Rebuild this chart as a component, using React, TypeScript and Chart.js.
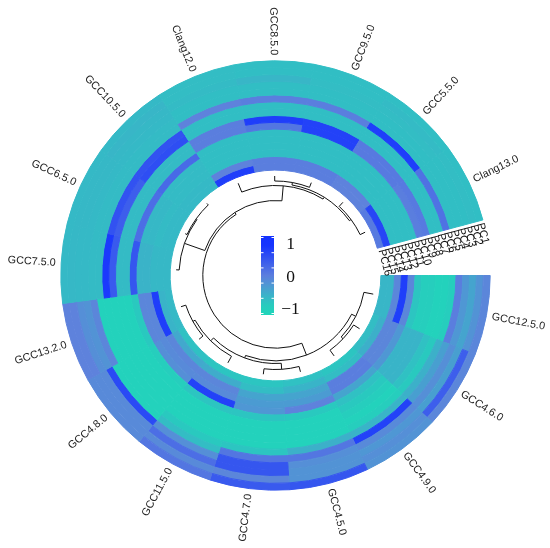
import React, { useEffect, useRef } from "react";
import { Chart, registerables } from "chart.js";

Chart.register(...registerables);

const sectorLabels = ["GCC12.5.0","GCC4.6.0","GCC4.9.0","GCC4.5.0","GCC4.7.0","GCC11.5.0","GCC4.8.0","GCC13.2.0","GCC7.5.0","GCC6.5.0","GCC10.5.0","Clang12.0","GCC8.5.0","GCC9.5.0","GCC5.5.0","Clang13.0"];
const sectorWeights = [1,1,1,1,1,1,1,1,1,1,1,1,1,1,1,1];

// innermost ring first
const ring00 = [-.62,-.7,-.8,-.75,-.8,-.8,-.75,-.65,-.64,-.66,-.66,.85,.05,.05,0,.1];
const ring01 = [-.62,-.55,-.7,-.6,-.7,-.5,-.45,-.6,-.64,-.66,-.66,0,.05,.05,0,.75];
const ring02 = [-.05,-.05,.05,-.4,-.4,-.05,-.05,.85,-.64,-.68,-.68,-.72,-.72,-.72,-.72,-.72];
const ring03 = [.85,-.05,.05,-.3,-.3,-.1,-.1,-.05,-.58,-.64,-.68,-.72,-.72,-.72,-.72,-.72];
const ring04 = [-.05,-.25,-.4,0,-.25,.8,-.15,-.05,-.58,-.64,-.68,-.72,-.72,-.72,-.72,-.72];
const ring05 = [-.8,-.6,-.75,-.85,-.8,-.8,-.9,-.85,.55,.25,.3,-.72,-.72,-.72,-.72,-.72];
const ring06 = [-.9,-.6,-.85,-.95,-.95,-.95,-.95,-.95,-.68,-.68,-.68,.05,.15,.8,.1,.05];
const ring07 = [-.9,-.6,-.9,-.95,-.95,-.95,-.95,-.95,-.68,-.68,-.68,.05,.85,.8,.1,.1];
const ring08 = [-.95,-.75,-.95,-.95,-.95,-.95,-.95,-.95,.5,.45,.65,-.72,-.72,-.72,-.72,-.72];
const ring09 = [-.95,-.85,-.9,-.95,-.95,-.95,-.95,-.95,.9,.6,.6,-.72,-.72,-.72,-.72,-.72];
const ring10 = [-.9,-.55,-.6,-.55,-.8,-.85,-.95,-.95,-.68,-.68,-.68,0,.05,.05,.85,.2];
const ring11 = [.05,-.35,.8,.15,.15,-.7,-.95,-.05,-.68,-.68,-.68,-.72,-.72,-.72,-.72,-.72];
const ring12 = [-.25,-.15,-.1,-.15,.55,-.15,.7,-.2,-.66,-.66,-.66,-.72,-.72,-.72,-.72,-.72];
const ring13 = [-.4,-.35,-.25,-.2,.55,.25,-.1,-.15,-.66,-.64,-.64,-.68,-.62,-.7,-.7,-.72];
const ring14 = [-.2,.45,-.15,-.2,-.05,-.1,-.1,0,-.64,-.64,-.62,-.7,-.72,-.72,-.68,-.7];
const ring15 = [-.05,-.05,-.2,.55,.5,.15,-.1,0,-.66,-.66,-.66,-.7,-.72,-.72,-.72,-.72];
const rings = [ring00,ring01,ring02,ring03,ring04,ring05,ring06,ring07,ring08,ring09,ring10,ring11,ring12,ring13,ring14,ring15];

const rowLabels = ["PC16","PC15","PC14","PC13","PC12","PC11","PC10","PC9","PC8","PC7","PC6","PC5","PC4","PC3","PC2","PC1"];

// dendrogram: leaves are 0-15, each merge creates node 16, 17, ...  [childA, childB, radius]
const merges: [number, number, number][] = [
  [12,13,94.5],[14,15,94],[16,17,92],[11,18,90],
  [9,10,97.5],[8,20,96.5],[21,19,75],
  [7,6,94.5],[23,5,92],[3,4,94],[24,25,88],
  [1,2,92.5],[0,27,90],[28,26,85.4],[22,29,72.7],
];
const leafRadius = 99.5;

const legendLabels = [1, 0, -1];
const legendTickCount = 6;

const stops: [number, [number, number, number]][] = [
  [-1, [32, 214, 186]],
  [0, [94, 130, 220]],
  [1, [20, 50, 255]],
];
function colorOf(v: number) {
  const x = Math.max(-1, Math.min(1, v));
  const [a, b] = x < 0 ? [stops[0], stops[1]] : [stops[1], stops[2]];
  const t = x - a[0];
  const c = a[1].map((p, i) => Math.round(p + (b[1][i] - p) * t));
  return `rgb(${c[0]},${c[1]},${c[2]})`;
}

const overlay = {
  id: "overlay",
  afterDatasetsDraw(chart: any) {
    const ctx = chart.ctx;
    const outer = chart.getDatasetMeta(0).data;
    const cx = outer[0].x, cy = outer[0].y, R = outer[0].outerRadius;
    const mids = outer.map((a: any) => (a.startAngle + a.endAngle) / 2);
    const pt = (r: number, a: number) => [cx + r * Math.cos(a), cy + r * Math.sin(a)];

    // sector labels
    ctx.save();
    ctx.font = '10.8px "Liberation Sans"';
    ctx.fillStyle = "#222";
    ctx.textBaseline = "middle";
    sectorLabels.forEach((t, i) => {
      const a = mids[i];
      const [x, y] = pt(R + 5.5, a);
      const flip = Math.cos(a) < 0;
      ctx.save();
      ctx.translate(x, y);
      ctx.rotate(flip ? a - Math.PI : a);
      ctx.textAlign = flip ? "right" : "left";
      ctx.fillText(t, 0, 0);
      ctx.restore();
    });
    ctx.restore();

    // row labels in the gap
    ctx.save();
    ctx.font = '10.8px "Liberation Sans"';
    ctx.fillStyle = "#111";
    ctx.textBaseline = "middle";
    ctx.textAlign = "left";
    const edge = outer[outer.length - 1].endAngle;
    rowLabels.forEach((t, k) => {
      const meta = chart.getDatasetMeta(15 - k).data[0];
      const r = (meta.innerRadius + meta.outerRadius) / 2;
      const [x, y] = pt(r, edge);
      ctx.save();
      ctx.translate(x, y);
      ctx.rotate(edge + Math.PI / 2);
      ctx.fillText(t, 2.5, 0);
      ctx.restore();
    });
    ctx.restore();

    // dendrogram
    const pos: { a: number; r: number }[] = mids.map((a: number) => ({ a, r: leafRadius }));
    ctx.save();
    ctx.strokeStyle = "#111";
    ctx.lineWidth = 1;
    merges.forEach(([p, q, h]) => {
      const A = pos[p], B = pos[q];
      ctx.beginPath();
      const [x1, y1] = pt(A.r, A.a);
      ctx.moveTo(x1, y1);
      const [x2, y2] = pt(h, A.a);
      ctx.lineTo(x2, y2);
      ctx.arc(cx, cy, h, A.a, B.a, A.a > B.a);
      const [x3, y3] = pt(B.r, B.a);
      ctx.lineTo(x3, y3);
      ctx.stroke();
      pos.push({ a: (A.a + B.a) / 2, r: h });
    });
    ctx.restore();

    // colour bar
    ctx.save();
    const bx = cx - 14.5, bw = 13, by = cy - 39.5, bh = 79;
    const unit = 32.2;
    const grad = ctx.createLinearGradient(0, by, 0, by + bh);
    const vTop = legendLabels[0] + (cy + 1.5 - unit - by) / unit;
    const span = bh / unit;
    [0, 0.125, 0.25, 0.375, 0.5, 0.625, 0.75, 0.875, 1].forEach((f) => grad.addColorStop(f, colorOf(vTop - f * span)));
    ctx.fillStyle = grad;
    ctx.fillRect(bx, by, bw, bh);
    ctx.strokeStyle = "#fff";
    ctx.lineWidth = 1;
    for (let i = 0; i < legendTickCount; i++) {
      const y = by + 1.5 + (i * (bh - 3)) / (legendTickCount - 1);
      ctx.beginPath();
      ctx.moveTo(bx, y); ctx.lineTo(bx + 2.5, y);
      ctx.moveTo(bx + bw - 2.5, y); ctx.lineTo(bx + bw, y);
      ctx.stroke();
    }
    ctx.fillStyle = "#111";
    ctx.font = '17.5px "Liberation Serif"';
    ctx.textAlign = "center";
    ctx.textBaseline = "middle";
    legendLabels.forEach((v) => {
      const txt = v < 0 ? "\u2212" + Math.abs(v) : String(v);
      ctx.fillText(txt, cx + 15, cy + 1.5 - v * unit);
    });
    ctx.restore();
  },
};

export default function App() {
  const ref = useRef<HTMLCanvasElement>(null);
  useEffect(() => {
    const chart = new Chart(ref.current!, {
      type: "doughnut",
      data: {
        labels: sectorLabels,
        datasets: [...rings].reverse().map((vals) => {
          const colors = vals.map(colorOf);
          return { data: sectorWeights, backgroundColor: colors, borderColor: colors, borderWidth: 1 };
        }),
      },
      options: {
        responsive: false,
        animation: false,
        events: [],
        rotation: 90,
        circumference: 345,
        radius: 214.7,
        cutout: 105.3,
        layout: { padding: { left: 60.5, right: 59.5, top: 60, bottom: 57 } },
        plugins: { legend: { display: false }, tooltip: { enabled: false } },
      },
      plugins: [overlay],
    } as any);
    return () => chart.destroy();
  }, []);
  return (
    <div style={{ position: "fixed", left: 0, top: 0, width: 550, height: 548, background: "#fff" }}>
      <canvas ref={ref} width={550} height={548} style={{ display: "block" }} />
    </div>
  );
}
